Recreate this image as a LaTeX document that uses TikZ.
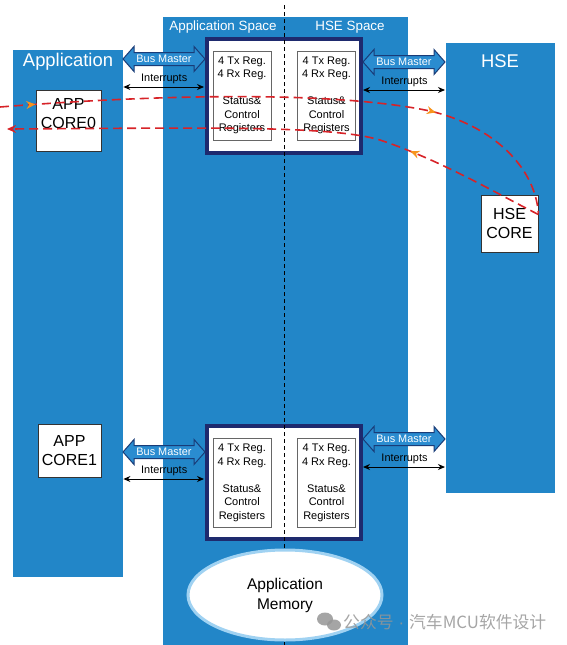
\documentclass[tikz,border=0pt]{standalone}
\usepackage{fontspec}
\setmainfont{Liberation Sans}
\newfontfamily\cjk{Noto Sans CJK SC}
\usetikzlibrary{arrows.meta,shapes.geometric,decorations.markings}
\definecolor{colblue}{RGB}{34,134,200}
\definecolor{regnavy}{RGB}{30,42,110}
\definecolor{busblue}{RGB}{42,140,208}
\definecolor{busline}{RGB}{25,60,120}
\definecolor{msgred}{RGB}{215,35,40}
\definecolor{msgorange}{RGB}{247,148,29}
\definecolor{glow}{RGB}{160,210,242}
\definecolor{wmgray}{RGB}{150,150,150}
\tikzset{
  column/.style={fill=colblue,draw=none,inner sep=0pt,anchor=north west},
  corebox/.style={draw=black!80,fill=white,line width=0.8pt,inner sep=0pt},
  coretext/.style={align=center,font=\fontsize{16}{19}\selectfont},
  regblock/.style={draw=regnavy,line width=4pt,fill=white,inner sep=0pt,minimum width=154pt},
  regbox/.style={draw=black!60,fill=white,line width=0.8pt,minimum width=58pt,minimum height=89pt,inner sep=0pt,align=center,font=\fontsize{11}{13.5}\selectfont},
  title/.style={text=white,font=\fontsize{18.4}{20}\selectfont},
  spacetitle/.style={text=white,font=\fontsize{13.4}{15}\selectfont},
  small/.style={font=\fontsize{10.9}{12}\selectfont},
  irq/.style={{Stealth[length=7pt,width=6pt]}-{Stealth[length=7pt,width=6pt]},line width=1pt,shorten >=1pt},
  msg/.style={msgred,dash pattern=on 9pt off 5pt,line width=1.6pt},
  midtip/.style={postaction={decorate,decoration={markings,mark=at position #1 with {\arrow[msgorange,line width=1pt]{Stealth[length=9pt,width=8pt]}}}}}
}
\newcommand{\busarrow}[4]{%
  \draw[busline,fill=busblue,line width=1pt] (#2,#4) -- (#2+11,#4-12.5) -- (#2+11,#4-6.5) -- (#3-11,#4-6.5) -- (#3-11,#4-12.5) -- (#3,#4) -- (#3-11,#4+12.5) -- (#3-11,#4+6.5) -- (#2+11,#4+6.5) -- (#2+11,#4+12.5) -- cycle;
  \node[small,text=white] (#1) at ({(#2+#3)/2},#4) {Bus Master};
}
\begin{document}
\begin{tikzpicture}[x=1pt,y=-1pt]
\useasboundingbox (0,0) rectangle (566,645);
\node[column,minimum width=110pt,minimum height=527pt] (appcol) at (13,50) {};
\node[column,minimum width=245pt,minimum height=628pt] (midcol) at (163,17) {};
\node[column,minimum width=109pt,minimum height=450pt] (hsecol) at (446,43) {};
\node[title] (apptitle) at (68,62) {Application};
\node[title] (hsetitle) at (500,61) {HSE};
\node[spacetitle] (appspace) at (223,27) {Application Space};
\node[spacetitle] (hsespace) at (350,27) {HSE Space};

% message unit, top
\node[regblock,minimum height=114pt] (treg) at (284,96) {};
\node[regbox] (tappreg) at (242,95.5) {4 Tx Reg.\\4 Rx Reg.\\[13.5pt]Status\&\\Control\\Registers};
\node[regbox] (thsereg) at (326.5,95.5) {4 Tx Reg.\\4 Rx Reg.\\[13.5pt]Status\&\\Control\\Registers};
% message unit, bottom
\node[regblock,minimum height=113pt] (breg) at (284,482.5) {};
\node[regbox] (bappreg) at (242,483) {4 Tx Reg.\\4 Rx Reg.\\[13.5pt]Status\&\\Control\\Registers};
\node[regbox] (bhsereg) at (326.5,483) {4 Tx Reg.\\4 Rx Reg.\\[13.5pt]Status\&\\Control\\Registers};

\draw[line width=0.8pt,dash pattern=on 4pt off 3pt] (284,5) -- (284,645);

\node[ellipse,draw=glow,line width=3pt,fill=white,minimum width=194pt,minimum height=90pt,align=center,font=\fontsize{15.5}{20}\selectfont] (mem) at (285,595) {Application\\Memory};

\node[corebox,minimum width=65pt,minimum height=61pt] (app0) at (68.5,120.5) {};
\node[coretext] (app0txt) at (68.5,114) {APP\\CORE0};
\node[corebox,minimum width=63pt,minimum height=53pt,coretext] (app1) at (69.5,450.5) {APP\\CORE1};
\node[corebox,minimum width=57pt,minimum height=57pt,coretext] (hsecore) at (509.5,223.5) {HSE\\CORE};

\busarrow{tlbus}{123}{205}{59}
\busarrow{trbus}{363}{445}{62}
\busarrow{blbus}{123}{205}{452}
\busarrow{brbus}{363}{445}{439}

\draw[irq] (appcol.east |- 0,87) -- (treg.west |- 0,87) node[small,midway,above=-1pt] (tlirq) {Interrupts};
\draw[irq] (treg.east |- 0,90) -- (hsecol.west |- 0,90) node[small,midway,above=-1pt] (trirq) {Interrupts};
\draw[irq] (appcol.east |- 0,479) -- (breg.west |- 0,479) node[small,midway,above=-1pt] (blirq) {Interrupts};
\draw[irq] (breg.east |- 0,467) -- (hsecol.west |- 0,467) node[small,midway,above=-1pt] (brirq) {Interrupts};

\coordinate (in0) at (0,107);
\coordinate (out0) at (7,129);
\draw[msg,midtip=0.06,midtip=0.74] (in0) .. controls (150,95) and (330,90) .. (430,111) .. controls (490,125) and (535,165) .. ([yshift=10pt]hsecore.east);
\draw[msg,midtip=0.26,-{Stealth[length=9pt,width=8pt]}] ([yshift=9pt]hsecore.east) .. controls (490,190) and (440,160) .. (380,140) .. controls (330,125) and (200,128) .. (out0);

\fill[wmgray,opacity=0.85] (325,619) ellipse (8pt and 6.5pt);
\fill[wmgray,opacity=0.85] (334,625) ellipse (7pt and 5.5pt);
\node[text=wmgray,opacity=0.85,anchor=west,inner sep=0pt,font=\cjk\fontsize{16.8}{16}\selectfont] (wmark) at (343,622) {公众号\hspace{5pt}{\rmfamily·}\hspace{5pt}汽车MCU软件设计};
\end{tikzpicture}
\end{document}
